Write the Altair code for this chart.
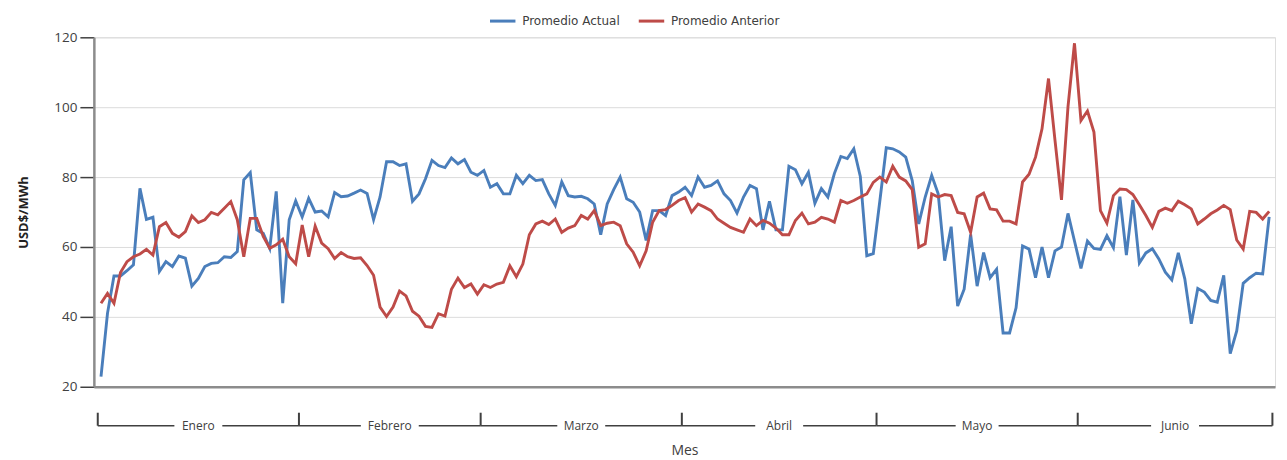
import altair as alt
import pandas as pd

# ---- data ----
meses = ["Enero", "Febrero", "Marzo", "Abril", "Mayo", "Junio"]
dias_mes = [31, 28, 31, 30, 31, 30]

promedio_actual = [
    22.9, 41.0, 51.7, 51.7, 53.2, 54.9, 76.8, 67.9, 68.5, 53.0, 55.8, 54.4, 57.4, 56.8, 48.8, 51.0,
    54.4, 55.3, 55.5, 57.2, 57.0, 58.7, 79.2, 81.3, 64.9, 63.9, 59.6, 75.9, 43.9, 67.8, 73.2,
    68.6, 73.9, 70.0, 70.3, 68.6, 75.6, 74.4, 74.6, 75.4, 76.3, 75.3, 67.8, 74.3, 84.4, 84.4, 83.3,
    83.8, 73.1, 75.2, 79.5, 84.8, 83.3, 82.7, 85.5, 83.8, 85.0, 81.4, 80.5,
    81.9, 77.1, 78.1, 75.2, 75.2, 80.5, 78.1, 80.5, 79.0, 79.3, 75.2, 71.9, 78.6, 74.7, 74.3, 74.5,
    73.8, 72.3, 63.5, 72.3, 76.4, 80.0, 73.8, 72.8, 70.0, 61.9, 70.4, 70.4, 69.0, 74.7, 75.7,
    77.1, 74.7, 80.0, 77.1, 77.6, 78.9, 75.2, 73.3, 69.7, 74.3, 77.6, 76.7, 64.9, 73.1, 64.9, 64.9,
    83.1, 82.1, 78.1, 81.4, 72.5, 76.7, 74.3, 81.0, 85.9, 85.3, 88.1, 80.2, 57.5, 58.1,
    73.0, 88.4, 88.1, 87.2, 85.7, 79.0, 66.6, 74.3, 80.5, 75.2, 56.1, 65.8, 43.1, 47.9, 63.6, 48.8,
    58.4, 51.2, 53.6, 35.4, 35.4, 42.6, 60.3, 59.4, 51.2, 60.0, 51.2, 58.9, 60.0, 69.6, 61.7,
    53.9, 61.7, 59.6, 59.3, 63.2, 59.8, 74.4, 57.7, 73.5, 55.4, 58.3, 59.5, 56.6, 52.8, 50.6, 58.3,
    50.9, 38.0, 48.1, 47.1, 44.7, 44.2, 51.9, 29.5, 36.0, 49.6, 51.2, 52.5, 52.3, 68.6,
]

promedio_anterior = [
    43.9, 46.7, 43.9, 52.7, 55.8, 57.2, 58.0, 59.3, 57.7, 65.8, 67.0, 63.9, 62.8, 64.4, 68.9, 67.0,
    67.8, 69.9, 69.2, 71.1, 73.0, 67.8, 57.2, 68.2, 68.2, 63.0, 59.6, 60.6, 62.2, 57.2, 55.2,
    66.3, 57.2, 66.0, 61.1, 59.5, 56.7, 58.4, 57.2, 56.7, 56.9, 54.7, 51.9, 42.8, 40.1, 42.8, 47.4,
    46.0, 41.6, 40.2, 37.3, 37.0, 40.9, 40.2, 47.9, 51.1, 48.4, 49.4, 46.5,
    49.2, 48.4, 49.4, 49.9, 54.6, 51.5, 55.1, 63.5, 66.6, 67.4, 66.4, 68.0, 64.2, 65.4, 66.1, 69.0,
    68.0, 70.4, 66.1, 66.8, 67.1, 66.1, 60.9, 58.5, 54.6, 58.9, 67.1, 70.4, 70.7, 71.9, 73.3,
    74.1, 70.0, 72.3, 71.4, 70.4, 68.0, 66.8, 65.6, 64.9, 64.2, 68.0, 66.1, 67.6, 66.8, 65.4, 63.5,
    63.5, 67.6, 69.7, 66.6, 67.1, 68.5, 68.0, 67.1, 73.3, 72.5, 73.3, 74.3, 75.2, 78.5,
    80.0, 78.6, 83.1, 80.0, 78.9, 76.4, 59.9, 60.9, 75.2, 74.3, 75.0, 74.7, 69.9, 69.5, 64.2, 74.3,
    75.4, 70.9, 70.6, 67.4, 67.4, 66.6, 78.6, 80.8, 85.7, 93.8, 108.2, 90.5, 73.5, 100.1, 118.3,
    96.2, 98.9, 92.9, 70.4, 66.8, 74.7, 76.6, 76.4, 75.0, 72.1, 69.0, 65.6, 70.2, 71.1, 70.4, 73.1,
    72.1, 70.9, 66.6, 68.0, 69.5, 70.6, 71.9, 70.7, 62.0, 59.4, 70.2, 69.9, 68.0, 70.2,
]

series = ["Promedio Actual", "Promedio Anterior"]
colores = ["#4a7ebb", "#be4b48"]
y_ticks = [20, 40, 60, 80, 100, 120]

# ---- tables ----
rows = []
for i, v in enumerate(promedio_actual):
    rows.append({"dia": i, "valor": v, "serie": series[0]})
for i, v in enumerate(promedio_anterior):
    rows.append({"dia": i, "valor": v, "serie": series[1]})
df = pd.DataFrame(rows)

DAY_PX = 6.5
bounds = [-0.5]
for d in dias_mes:
    bounds.append(bounds[-1] + d)
seg_rows, lab_rows = [], []
for k, name in enumerate(meses):
    a, b = bounds[k], bounds[k + 1]
    mid = (a + b) / 2
    gap = (len(name) * 2.5 + 11.5) / DAY_PX
    seg_rows.append({"ini": a, "fin": mid - gap})
    seg_rows.append({"ini": mid + gap, "fin": b})
    lab_rows.append({"mid": mid, "mes": name})
df_seg = pd.DataFrame(seg_rows)
df_lab = pd.DataFrame(lab_rows)
df_bnd = pd.DataFrame({"limite": bounds})

W, H = 1183, 350
xscale = alt.Scale(domain=[-1.1, 180.9], nice=False, zero=False)
xaxis = alt.Axis(title="Mes", labels=False, ticks=False, grid=False, domain=True,
                 domainColor="#8c8c8c", domainWidth=2.5, titlePadding=57,
                 titleFont="Open Sans", titleFontSize=14, titleFontWeight="normal",
                 titleColor="#404040")

lines = alt.Chart(df).mark_line(strokeWidth=2.9).encode(
    x=alt.X("dia:Q", scale=xscale, axis=xaxis),
    y=alt.Y("valor:Q", scale=alt.Scale(domain=[20, 120], nice=False, zero=False),
            axis=alt.Axis(values=y_ticks, title="USD$/MWh", grid=True, gridColor="#dcdcdc",
                          gridWidth=1, domainColor="#8c8c8c", domainWidth=2.5,
                          tickColor="#404040", tickSize=14, tickWidth=1.5, labelPadding=3,
                          labelFont="Open Sans", labelFontSize=13.5, labelColor="#404040",
                          titleFont="Open Sans", titleFontSize=13, titleFontWeight="bold",
                          titleColor="#222222", titlePadding=23)),
    color=alt.Color("serie:N", scale=alt.Scale(domain=series, range=colores),
                    legend=alt.Legend(title=None, orient="none", direction="horizontal",
                                      legendX=395, legendY=-31, symbolType="stroke",
                                      symbolSize=650, symbolStrokeWidth=3,
                                      labelFont="DejaVu Sans", labelFontSize=12,
                                      labelColor="#404040", labelOffset=5,
                                      columnPadding=12)),
    order=alt.Order("dia:Q"),
)

segs = alt.Chart(df_seg).mark_rule(color="#404040", strokeWidth=1.5).encode(
    x=alt.X("ini:Q", scale=xscale, axis=xaxis),
    x2="fin:Q",
    y=alt.value(H + 39),
)

ticks = alt.Chart(df_bnd).mark_rule(color="#404040", strokeWidth=2).encode(
    x=alt.X("limite:Q", scale=xscale, axis=xaxis),
    y=alt.value(H + 26),
    y2=alt.value(H + 39),
)

labels = alt.Chart(df_lab).mark_text(font="Open Sans", fontSize=12, color="#404040",
                                     baseline="middle", align="center").encode(
    x=alt.X("mid:Q", scale=xscale, axis=xaxis),
    y=alt.value(H + 39),
    text="mes:N",
)

chart = alt.layer(lines, segs, ticks, labels).properties(
    width=W, height=H,
    autosize=alt.AutoSizeParams(type="none"),
    padding={"left": 86, "top": 29, "right": 4, "bottom": 73},
).configure_view(stroke=None).configure(background="white")

chart.save("out.html", embed_options={"renderer": "svg", "actions": False})
